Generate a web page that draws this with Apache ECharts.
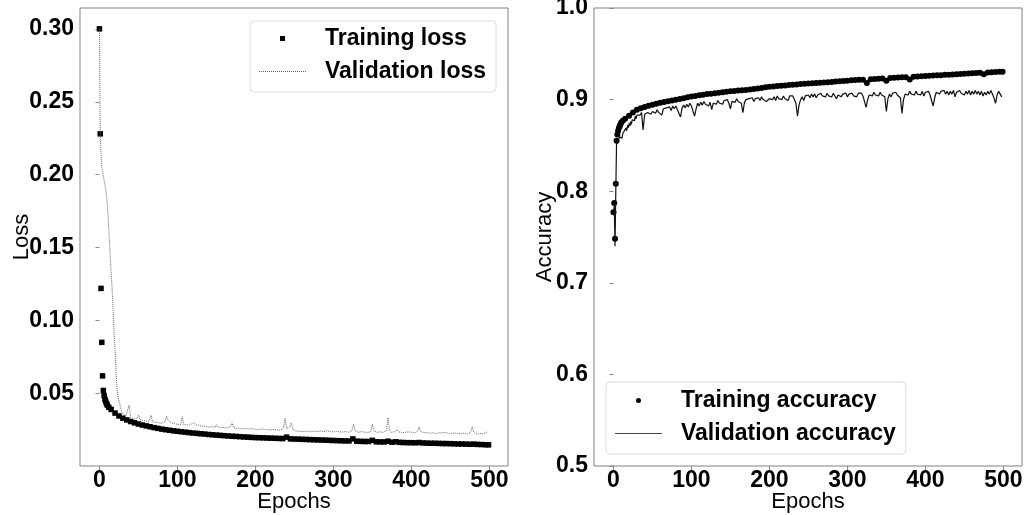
<!DOCTYPE html>
<html>
<head>
<meta charset="utf-8">
<script src="https://cdn.jsdelivr.net/npm/echarts/dist/echarts.min.js"></script>
<style>
  html, body { margin: 0; padding: 0; background: #fff; }
  #main { width: 1024px; height: 515px; }
</style>
</head>
<body>
<div id="main"></div>
<script>
// training curves (one point per marker group)
var trainEpochs = [0,1,2,3,4,5,6,7,8,9,
  10,12,15,20,25,30,35,40,45,50,
  55,60,65,70,75,80,85,90,95,100,
  105,110,115,120,125,130,135,140,145,150,
  155,160,165,170,175,180,185,190,195,200,
  205,210,215,220,225,230,235,240,245,250,
  255,260,265,270,275,280,285,290,295,300,
  305,310,315,320,325,330,335,340,345,350,
  355,360,365,370,375,380,385,390,395,400,
  405,410,415,420,425,430,435,440,445,450,
  455,460,465,470,475,480,485,490,495,499];

var trainLoss = [0.300,0.228,0.122,0.085,0.062,0.052,0.0485,0.046,0.0445,0.043,
  0.042,0.0405,0.039,0.0365,0.0345,0.033,0.0318,0.0307,0.0298,0.029,
  0.0283,0.0277,0.0271,0.0265,0.026,0.0255,0.0251,0.0247,0.0243,0.024,
  0.0237,0.0234,0.0231,0.0228,0.0226,0.0223,0.0221,0.0218,0.0216,0.0214,
  0.0212,0.021,0.0208,0.0206,0.0205,0.0203,0.0201,0.02,0.0198,0.0197,
  0.0196,0.0195,0.0194,0.0193,0.0192,0.0191,0.019,0.0200,0.0188,0.0187,
  0.0186,0.0185,0.0184,0.0183,0.0182,0.0181,0.018,0.0179,0.0178,0.0177,
  0.0176,0.0175,0.0174,0.0174,0.0188,0.0172,0.0171,0.017,0.017,0.0178,
  0.0168,0.0167,0.0167,0.0172,0.0165,0.0168,0.0164,0.0163,0.0162,0.0162,
  0.0161,0.0163,0.016,0.0159,0.0158,0.0158,0.0157,0.0156,0.0156,0.0155,
  0.0154,0.0153,0.0153,0.0152,0.0151,0.0152,0.015,0.0149,0.0148,0.0147];

var trainAcc = [0.777,0.787,0.748,0.808,0.855,0.862,0.866,0.869,0.871,0.873,
  0.875,0.877,0.879,0.8825,0.886,0.889,0.8905,0.892,0.8933,0.8945,
  0.8955,0.8965,0.8975,0.8983,0.899,0.8998,0.9007,0.9015,0.9025,0.9035,
  0.904,0.9047,0.9053,0.906,0.9065,0.907,0.9075,0.908,0.9085,0.909,
  0.9094,0.9098,0.9102,0.9106,0.911,0.9115,0.912,0.9128,0.9134,0.914,
  0.9144,0.9148,0.915,0.9155,0.916,0.9162,0.9165,0.917,0.9172,0.9175,
  0.9178,0.918,0.9183,0.9186,0.919,0.9193,0.9197,0.92,0.9203,0.9206,
  0.921,0.9213,0.9216,0.9218,0.918,0.9222,0.9225,0.9228,0.923,0.9205,
  0.9236,0.9238,0.924,0.9243,0.9245,0.922,0.925,0.9252,0.9255,0.9258,
  0.926,0.9262,0.9265,0.9267,0.927,0.9272,0.9275,0.9277,0.928,0.9282,
  0.9285,0.9287,0.929,0.9292,0.9278,0.9295,0.9298,0.93,0.9303,0.9305];

// validation curves
var valEpochs = [0,1,2,3,4,5,6,7,8,9,
  10,11,12,13,14,15,16,17,18,19,
  20,21,22,23,24,25,26,27,28,29,30,
  32,34,36,38,40,42,44,46,48,50,
  52,54,56,58,60,62,64,66,68,70,
  72,74,76,78,80,82,84,86,88,90,
  92,94,96,98,100,102,104,106,108,110,
  112,114,116,118,120,122,124,126,128,130,
  132,134,136,138,140,142,144,146,148,150,
  152,154,156,158,160,162,164,166,168,170,
  172,174,176,178,180,182,184,186,188,190,
  192,194,196,198,200,202,204,206,208,210,
  212,214,216,218,220,222,224,226,228,230,
  232,234,236,238,240,242,244,246,248,250,
  252,254,256,258,260,262,264,266,268,270,
  272,274,276,278,280,282,284,286,288,290,
  292,294,296,298,300,302,304,306,308,310,
  312,314,316,318,320,322,324,326,328,330,
  332,334,336,338,340,342,344,346,348,350,
  352,354,356,358,360,362,364,366,368,370,
  372,374,376,378,380,382,384,386,388,390,
  392,394,396,398,400,402,404,406,408,410,
  412,414,416,418,420,422,424,426,428,430,
  432,434,436,438,440,442,444,446,448,450,
  452,454,456,458,460,462,464,466,468,470,
  472,474,476,478,480,482,484,486,488,490,
  492,494,496,498];

var valLoss = [0.300,0.228,0.215,0.205,0.203,0.199,0.196,0.193,0.190,0.186,
  0.180,0.172,0.163,0.152,0.142,0.133,0.124,0.113,0.101,0.090,
  0.080,0.068,0.058,0.051,0.047,0.045,0.044,0.041,0.038,0.037,0.036,
  0.0352,0.0345,0.0335,0.042,0.0332,0.0335,0.0322,0.032,0.0328,0.035,
  0.0318,0.031,0.0316,0.0305,0.0308,0.030,0.0312,0.035,0.0305,0.030,
  0.0302,0.0295,0.0298,0.029,0.0296,0.030,0.0305,0.0344,0.0318,0.031,
  0.0298,0.029,0.0293,0.0285,0.0288,0.028,0.0286,0.034,0.0288,0.028,
  0.0284,0.0275,0.0282,0.029,0.0298,0.0305,0.0285,0.0278,0.0281,0.0272,
  0.0276,0.027,0.0274,0.0275,0.0268,0.0266,0.0272,0.027,0.0267,0.0285,
  0.0268,0.0265,0.0267,0.0262,0.0266,0.0268,0.0263,0.0262,0.0272,0.030,
  0.0266,0.0262,0.0259,0.0258,0.0262,0.026,0.0256,0.0255,0.0259,0.0262,
  0.0256,0.0255,0.0258,0.0252,0.0254,0.0255,0.0251,0.025,0.0256,0.0262,
  0.0254,0.0258,0.0251,0.0252,0.0248,0.025,0.0253,0.0255,0.0249,0.025,
  0.0247,0.0255,0.0262,0.0328,0.0258,0.0255,0.027,0.0298,0.0252,0.0245,
  0.0242,0.0244,0.024,0.0242,0.0238,0.0242,0.0239,0.0237,0.0241,0.024,
  0.0237,0.0238,0.0241,0.0243,0.0237,0.0238,0.0242,0.0248,0.0238,0.024,
  0.0244,0.0235,0.0237,0.0242,0.0236,0.0237,0.0239,0.0234,0.0236,0.024,
  0.0235,0.0236,0.0238,0.0237,0.0233,0.0234,0.0245,0.0289,0.0242,0.0237,
  0.0233,0.0235,0.0238,0.0232,0.0234,0.0237,0.0232,0.0233,0.0238,0.0289,
  0.0245,0.0236,0.0232,0.0233,0.0236,0.0231,0.0233,0.0236,0.0245,0.0333,
  0.0248,0.0233,0.0231,0.0236,0.024,0.025,0.0235,0.023,0.0232,0.0229,
  0.0233,0.0232,0.0236,0.0243,0.0234,0.023,0.0228,0.0234,0.024,0.027,
  0.0238,0.0229,0.0231,0.0226,0.0229,0.023,0.0227,0.0226,0.023,0.0228,
  0.0225,0.0224,0.0229,0.0238,0.023,0.0226,0.0232,0.0229,0.0225,0.0232,
  0.0226,0.0224,0.0228,0.0223,0.0226,0.0227,0.0222,0.0223,0.0227,0.0226,
  0.0222,0.0224,0.0232,0.027,0.0234,0.0225,0.0221,0.0222,0.0225,0.022,
  0.0222,0.0226,0.0232,0.0236];

var valAcc = [0.775,0.785,0.740,0.800,0.855,0.852,0.856,0.854,0.859,0.857,
  0.861,0.858,0.863,0.861,0.866,0.864,0.869,0.866,0.872,0.869,
  0.874,0.871,0.876,0.873,0.878,0.876,0.880,0.877,0.882,0.879,0.883,
  0.885,0.883,0.886,0.867,0.884,0.882,0.886,0.888,0.884,0.887,
  0.889,0.885,0.889,0.886,0.887,0.883,0.890,0.888,0.891,0.889,
  0.892,0.888,0.893,0.890,0.893,0.889,0.887,0.881,0.891,0.894,
  0.891,0.895,0.892,0.896,0.893,0.895,0.882,0.890,0.896,0.893,
  0.897,0.894,0.898,0.895,0.897,0.893,0.897,0.889,0.896,0.898,
  0.895,0.899,0.896,0.898,0.895,0.899,0.897,0.900,0.896,0.890,
  0.898,0.900,0.897,0.901,0.898,0.900,0.896,0.8857,0.897,0.900,
  0.898,0.901,0.899,0.902,0.898,0.901,0.899,0.902,0.899,0.903,
  0.900,0.902,0.898,0.896,0.901,0.903,0.900,0.903,0.899,0.904,
  0.901,0.903,0.900,0.904,0.901,0.903,0.899,0.904,0.902,0.904,
  0.900,0.896,0.882,0.894,0.900,0.903,0.899,0.904,0.902,0.905,
  0.902,0.906,0.903,0.906,0.902,0.905,0.903,0.907,0.904,0.906,
  0.903,0.907,0.904,0.906,0.903,0.907,0.904,0.901,0.905,0.907,
  0.903,0.906,0.904,0.907,0.903,0.906,0.904,0.907,0.904,0.906,
  0.903,0.907,0.905,0.907,0.904,0.902,0.8916,0.900,0.905,0.907,
  0.904,0.908,0.905,0.907,0.904,0.908,0.905,0.907,0.903,0.887,
  0.901,0.906,0.903,0.907,0.905,0.908,0.905,0.907,0.902,0.885,
  0.900,0.906,0.908,0.905,0.909,0.906,0.908,0.905,0.909,0.906,
  0.908,0.905,0.909,0.904,0.908,0.906,0.909,0.905,0.903,0.893,
  0.902,0.908,0.910,0.906,0.909,0.907,0.910,0.906,0.909,0.905,
  0.909,0.906,0.910,0.903,0.908,0.906,0.910,0.907,0.909,0.905,
  0.909,0.906,0.910,0.905,0.909,0.906,0.910,0.906,0.909,0.905,
  0.909,0.904,0.908,0.905,0.909,0.906,0.910,0.906,0.902,0.896,
  0.905,0.909,0.906,0.903];

var epochTicks = [0, 100, 200, 300, 400, 500];
var lossTicks = [0.05, 0.10, 0.15, 0.20, 0.25, 0.30];
var accTicks = [0.5, 0.6, 0.7, 0.8, 0.9, 1.0];

function pairs(xs, ys) {
  var out = [];
  for (var i = 0; i < xs.length; i++) out.push([xs[i], ys[i]]);
  return out;
}

// legend icons: small square, dotted line and thin solid line
var squareIcon = 'path://M0 0H1V1H0Z';
var dotPath = '';
for (var d = 0; d < 47; d += 2) dotPath += 'M' + d + ' 0h1v1h-1z';
var dottedIcon = 'path://' + dotPath;
var solidIcon = 'path://M0 0H47V1H0Z';

var font = "'Liberation Sans', Arial, sans-serif";
var labelStyle = { fontSize: 23, fontWeight: 'bold', color: '#000', fontFamily: font };
var nameStyle = { fontSize: 22, color: '#000', fontFamily: font };
var legendText = { fontSize: 23, fontWeight: 'bold', color: '#000', fontFamily: font, padding: [0, 0, 0, 14] };

function xAxisFor(idx) {
  return {
    type: 'value', gridIndex: idx, min: -24.95, max: 523.95,
    name: 'Epochs', nameLocation: 'middle', nameGap: 25, nameMoveOverlap: false, nameTextStyle: nameStyle,
    axisLine: { show: false },
    splitLine: { show: false },
    axisTick: { show: true, length: 4, lineStyle: { color: '#888' }, customValues: epochTicks },
    axisLabel: Object.assign({ margin: 3, customValues: epochTicks }, labelStyle)
  };
}

var myChart = echarts.init(document.getElementById('main'));
var option = {
  animation: false,
  backgroundColor: '#fff',
  grid: [
    { left: 80, top: 8, width: 428, height: 458, show: true, borderColor: '#808080', borderWidth: 1, outerBoundsMode: 'none' },
    { left: 594, top: 8, width: 428, height: 458, show: true, borderColor: '#808080', borderWidth: 1, outerBoundsMode: 'none' }
  ],
  xAxis: [xAxisFor(0), xAxisFor(1)],
  yAxis: [
    {
      type: 'value', gridIndex: 0, min: 0.0002, max: 0.3143,
      name: 'Loss', nameLocation: 'middle', nameGap: 47, nameMoveOverlap: false, nameTextStyle: nameStyle,
      axisLine: { show: false }, splitLine: { show: false },
      axisTick: { show: true, length: 4, lineStyle: { color: '#888' }, customValues: lossTicks },
      axisLabel: Object.assign({ margin: 6, customValues: lossTicks,
        formatter: function (v) { return v.toFixed(2); } }, labelStyle)
    },
    {
      type: 'value', gridIndex: 1, min: 0.5, max: 1.0,
      name: 'Accuracy', nameLocation: 'middle', nameGap: 38, nameMoveOverlap: false, nameTextStyle: nameStyle,
      axisLine: { show: false }, splitLine: { show: false },
      axisTick: { show: true, length: 4, lineStyle: { color: '#888' }, customValues: accTicks },
      axisLabel: Object.assign({ margin: 6, customValues: accTicks,
        formatter: function (v) { return v.toFixed(1); } }, labelStyle)
    }
  ],
  legend: [
    {
      data: [{ name: 'Training loss', icon: squareIcon }, { name: 'Validation loss', icon: dottedIcon }],
      left: 250, top: 21, orient: 'vertical',
      itemWidth: 47, itemHeight: 5, itemGap: 10,
      padding: [6, 10, 9, 9],
      borderColor: '#dddddd', borderWidth: 1, borderRadius: 4,
      backgroundColor: 'rgba(255,255,255,0.8)',
      selectedMode: false, symbolKeepAspect: true,
      textStyle: legendText
    },
    {
      data: [{ name: 'Training accuracy', icon: 'circle' }, { name: 'Validation accuracy', icon: solidIcon }],
      left: 606, top: 382, orient: 'vertical',
      itemWidth: 47, itemHeight: 5, itemGap: 10,
      padding: [7, 10, 9, 9],
      borderColor: '#dddddd', borderWidth: 1, borderRadius: 4,
      backgroundColor: 'rgba(255,255,255,0.8)',
      selectedMode: false, symbolKeepAspect: true,
      textStyle: legendText
    }
  ],
  series: [
    {
      name: 'Training loss', type: 'scatter', xAxisIndex: 0, yAxisIndex: 0,
      symbol: 'rect', symbolSize: 5.5,
      itemStyle: { color: '#000', opacity: 1 },
      data: pairs(trainEpochs, trainLoss)
    },
    {
      name: 'Validation loss', type: 'line', xAxisIndex: 0, yAxisIndex: 0,
      symbol: 'none', showSymbol: false,
      lineStyle: { color: '#666', width: 1, type: [1, 1] },
      itemStyle: { color: '#666' },
      data: pairs(valEpochs, valLoss)
    },
    {
      name: 'Training accuracy', type: 'scatter', xAxisIndex: 1, yAxisIndex: 1,
      symbol: 'circle', symbolSize: 6,
      itemStyle: { color: '#000', opacity: 1 },
      data: pairs(trainEpochs, trainAcc)
    },
    {
      name: 'Validation accuracy', type: 'line', xAxisIndex: 1, yAxisIndex: 1,
      symbol: 'none', showSymbol: false,
      lineStyle: { color: '#111', width: 1.2 },
      itemStyle: { color: '#444' },
      data: pairs(valEpochs, valAcc)
    }
  ]
};
myChart.setOption(option);
window.onresize = myChart.resize;
</script>
</body>
</html>
